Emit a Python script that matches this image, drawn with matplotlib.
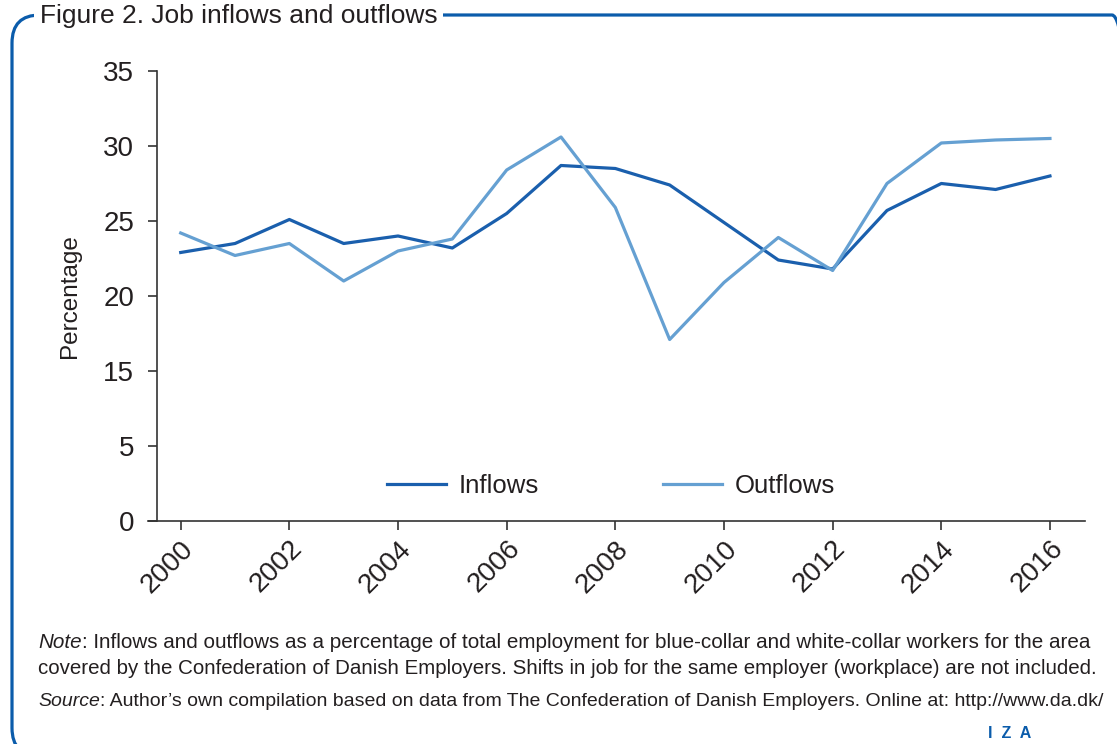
import matplotlib.pyplot as plt
from matplotlib.patches import FancyBboxPatch

plt.rcParams['font.family'] = ['Liberation Sans', 'DejaVu Sans']

years = list(range(2000, 2017))
inflows = [22.9, 23.5, 25.1, 23.5, 24.0, 23.2, 25.5, 28.7, 28.5, 27.4,
           24.9, 22.4, 21.8, 25.7, 27.5, 27.1, 28.0]
outflows = [24.2, 22.7, 23.5, 21.0, 23.0, 23.8, 28.4, 30.6, 25.9, 17.1,
            20.9, 23.9, 21.7, 27.5, 30.2, 30.4, 30.5]

# the original axis skips 10: labels 0 and 5 sit where 5 and 10 would be
ytick_pos = [5, 10, 15, 20, 25, 30, 35]
ytick_labels = ['0', '5', '15', '20', '25', '30', '35']
xtick_years = list(range(2000, 2017, 2))

text_color = '#231f20'
axis_color = '#333333'
dark_blue = '#1a5fad'
light_blue = '#65a0d2'
frame_blue = '#0b5cab'

fig = plt.figure(figsize=(11.17, 7.44), dpi=100)
ax = fig.add_axes([0.1325, 0.2997, 0.8388, 0.6049])

ax.plot(years, inflows, color=dark_blue, lw=2.3, label='Inflows')
ax.plot(years, outflows, color=light_blue, lw=2.3, label='Outflows')

ax.set_xlim(1999.398, 2016.644)
ax.set_ylim(5, 35)
ax.set_yticks(ytick_pos)
ax.set_yticklabels(ytick_labels)
ax.set_xticks(xtick_years)
ax.set_xticklabels([str(y) for y in xtick_years], rotation=45, ha='right',
                   rotation_mode='anchor')

for s in ['top', 'right']:
    ax.spines[s].set_visible(False)
for s in ['left', 'bottom']:
    ax.spines[s].set_color(axis_color)
    ax.spines[s].set_linewidth(1.2)
ax.spines['left'].set_position(('data', 1999.558))

ax.tick_params(axis='y', direction='out', length=6.3, width=1.2, color=axis_color,
               labelsize=20, labelcolor=text_color, pad=10)
ax.tick_params(axis='x', direction='out', length=6.5, width=1.2, color=axis_color,
               labelsize=20, labelcolor=text_color, pad=4)

ax.set_ylabel('Percentage', fontsize=17.5, color=text_color, labelpad=16)

ax.legend(loc='center', bbox_to_anchor=(0.494, 0.078), ncol=2, frameon=False,
          fontsize=18.5, handlelength=2.3, handletextpad=0.5, columnspacing=4.8,
          labelcolor=text_color)

# rounded frame around the figure
frame = FancyBboxPatch((0.12, -0.12), 11.28, 7.41,
                       boxstyle='round,pad=0,rounding_size=0.28',
                       transform=fig.dpi_scale_trans, fill=False,
                       ec=frame_blue, lw=2.3, clip_on=False)
fig.add_artist(frame)

fig.text(40 / 1117, 1 - 23 / 744, 'Figure 2. Job inflows and outflows',
         fontsize=19, color=text_color, va='baseline', ha='left',
         bbox=dict(fc='white', ec='none', pad=4))

# (italic head, body, baseline y in px, font size)
note_lines = [
    ('Note', ': Inflows and outflows as a percentage of total employment for blue-collar '
             'and white-collar workers for the area', 648, 14.9),
    (None, 'covered by the Confederation of Danish Employers. Shifts in job for the same '
           'employer (workplace) are not included.', 674, 14.75),
    ('Source', ': Author\u2019s own compilation based on data from The Confederation of '
               'Danish Employers. Online at: http://www.da.dk/', 706, 14.0),
]
for head, body, ypix, size in note_lines:
    if head is None:
        fig.text(38 / 1117, 1 - ypix / 744, body, fontsize=size, color=text_color,
                 va='baseline')
        continue
    t = fig.text(38 / 1117, 1 - ypix / 744, head, fontsize=size, color=text_color,
                 style='italic', va='baseline')
    ax.annotate(body, xy=(1, 0), xycoords=t, fontsize=size, color=text_color,
                va='bottom', ha='left', annotation_clip=False)

fig.text(1010 / 1117, 1 - 733 / 744, 'I  Z  A', fontsize=11.5, color=frame_blue,
         fontweight='bold', ha='center', va='center')

fig.savefig('out.png', dpi=100)
